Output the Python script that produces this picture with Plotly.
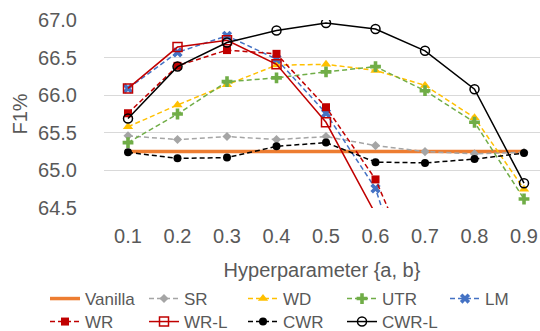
import plotly.graph_objects as go

x_vals = [0.1, 0.2, 0.3, 0.4, 0.5, 0.6, 0.7, 0.8, 0.9]
x_labels = ["0.1", "0.2", "0.3", "0.4", "0.5", "0.6", "0.7", "0.8", "0.9"]

vanilla = [65.25] * 9
sr = [65.46, 65.41, 65.45, 65.41, 65.45, 65.33, 65.25, 65.22, 65.24]
wd = [65.58, 65.87, 66.14, 66.40, 66.41, 66.33, 66.13, 65.70, 64.75]
utr = [65.37, 65.75, 66.18, 66.23, 66.31, 66.38, 66.06, 65.64, 64.62]
lm = [66.09, 66.57, 66.79, 66.48, 65.76, 64.76, 62.72, None, None]
wr = [65.76, 66.39, 66.60, 66.55, 65.84, 64.88, 63.35, None, None]
wr_l = [66.09, 66.64, 66.73, 66.41, 65.64, 64.42, None, None, None]
cwr = [65.24, 65.16, 65.17, 65.32, 65.37, 65.11, 65.10, 65.15, 65.23]
cwr_l = [65.69, 66.38, 66.70, 66.86, 66.96, 66.88, 66.59, 66.08, 64.83]

y_ticks = [64.5, 65.0, 65.5, 66.0, 66.5, 67.0]
y_tick_labels = ["64.5", "65.0", "65.5", "66.0", "66.5", "67.0"]

DASH = "5px,3px"
FONT = "Liberation Sans, Arial, sans-serif"

fig = go.Figure()

def add(name, y, color, dash, symbol, size, legend, width=1.5, mline=None):
    marker = dict(symbol=symbol, size=size, color=color)
    if mline is not None:
        marker["line"] = mline
    fig.add_trace(go.Scatter(
        x=x_vals, y=y, name=name, mode="lines+markers",
        line=dict(color=color, width=width, dash=dash),
        marker=marker, connectgaps=False, legend=legend,
    ))

fig.add_trace(go.Scatter(x=x_vals, y=vanilla, name="Vanilla", mode="lines",
                         line=dict(color="#ED7D31", width=3.5), legend="legend"))
add("SR", sr, "#A5A5A5", DASH, "diamond", 7, "legend")
add("WD", wd, "#FFC000", DASH, "triangle-up", 9, "legend")
add("UTR", utr, "#70AD47", DASH, "cross", 9, "legend")
add("LM", lm, "#4472C4", DASH, "x", 9, "legend3")
add("WR", wr, "#C00000", DASH, "square", 8, "legend2")
add("WR-L", wr_l, "#C00000", "solid", "square-open", 9, "legend2", mline=dict(width=1.5, color="#C00000"))
add("CWR", cwr, "#000000", DASH, "circle", 8, "legend2")
add("CWR-L", cwr_l, "#000000", "solid", "circle-open", 9, "legend2", mline=dict(width=1.5, color="#000000"))

legend_common = dict(
    orientation="h", xref="container", yref="container",
    xanchor="left", yanchor="middle",
    font=dict(size=17, color="#595959"),
    entrywidth=54, entrywidthmode="pixels",
    itemwidth=30, tracegroupgap=0,
    bgcolor="rgba(0,0,0,0)",
)

row1_y = 1 - 299 / 331
row2_y = 1 - 322 / 331

fig.update_layout(
    width=540, height=331,
    margin=dict(l=104, r=0, t=20, b=123, autoexpand=False),
    paper_bgcolor="white", plot_bgcolor="white",
    font=dict(family=FONT, color="#595959", size=20),
    showlegend=True,
    legend=dict(legend_common, x=45 / 540, y=row1_y),
    legend3=dict(legend_common, x=445 / 540, y=row1_y),
    legend2=dict(legend_common, x=45 / 540, y=row2_y),
    xaxis=dict(
        range=[0.0515, 0.9323],
        tickvals=x_vals, ticktext=x_labels,
        showgrid=False, zeroline=False, showline=False,
        ticks="", ticklabelstandoff=14, automargin=False,
        tickfont=dict(size=20, color="#595959"),
        title=dict(text="Hyperparameter {a, b}", font=dict(size=20, color="#595959"), standoff=18),
    ),
    yaxis=dict(
        range=[64.5, 67.0],
        tickvals=y_ticks, ticktext=y_tick_labels,
        showgrid=True, gridcolor="#D9D9D9", gridwidth=1,
        zeroline=False, showline=False, ticks="", automargin=False,
        ticklabelstandoff=26,
        tickfont=dict(size=20, color="#595959"),
        title=dict(text="F1%", font=dict(size=20, color="#595959"), standoff=5),
    ),
)

fig.write_html(
    "out.html",
    config={"displayModeBar": False},
    post_script="document.body.style.margin='0';document.body.style.overflow='hidden';",
)
